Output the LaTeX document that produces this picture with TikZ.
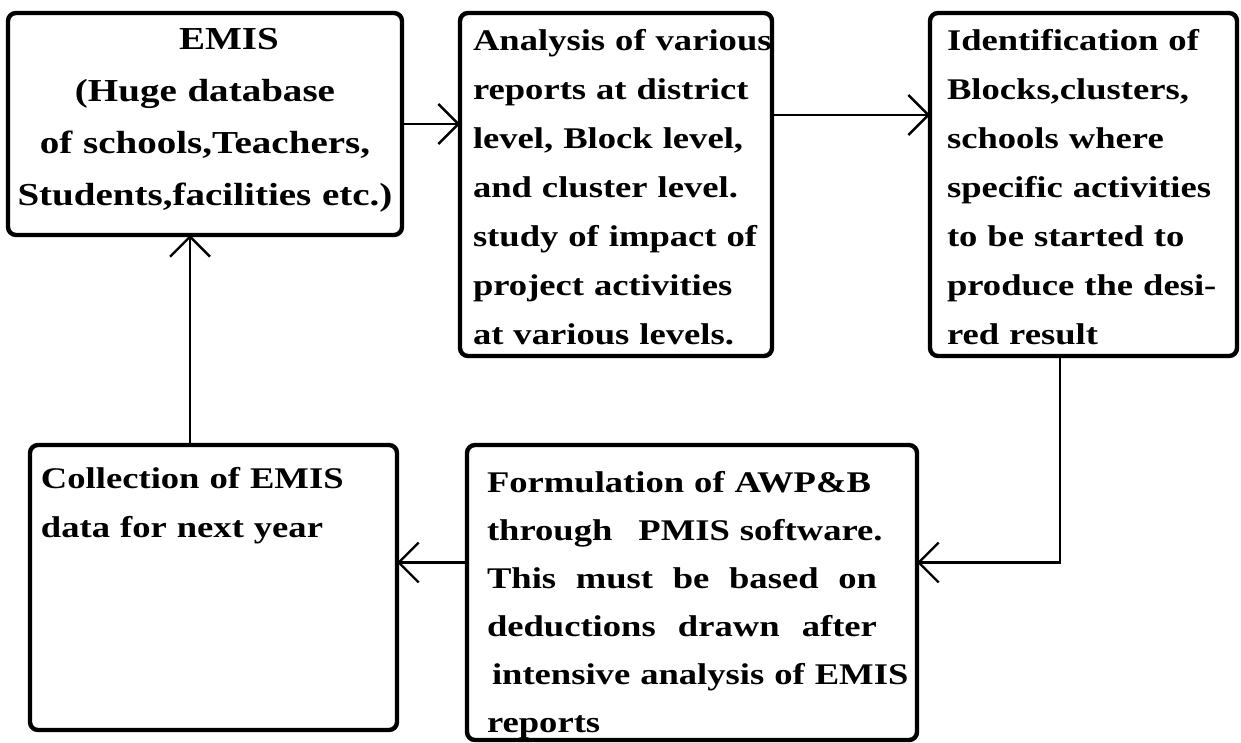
\documentclass[tikz,border=0pt]{standalone}
\usepackage{fontspec}
\setmainfont{Liberation Serif}[FakeStretch=1.22]
\usetikzlibrary{positioning,arrows.meta}
\newcommand{\padleft}[1]{\leftskip=#1\rightskip=-30pt plus 1fil\relax}
\tikzset{
  blk/.style={rectangle,rounded corners=4pt,draw=black,line width=2.2pt,inner sep=0pt,outer sep=0pt,align=left,font=\bfseries\fontsize{15pt}{24.5pt}\selectfont},
  link/.style={-{Straight Barb[length=10pt,width=20pt]},line width=1.2pt,draw=black},
}
\begin{document}
\begin{tikzpicture}[x=0.5pt,y=-0.5pt]
  \fill[white] (0,0) rectangle (1241,743);
  \node[blk,anchor=north west,align=center,text width=197pt,text height=18.5pt,text depth=92.5pt,font=\bfseries\fontsize{16pt}{26pt}\selectfont] (emis) at (8,13) {\hspace*{24pt}EMIS\\(Huge database\hspace*{9pt}\\of schools,Teachers,\\Students,facilities etc.)};
  \node[blk,right=29pt of emis.north east,anchor=north west,text width=156pt,text height=19pt,text depth=152.5pt] (ana) {\padleft{6.5pt}Analysis of various\\reports at district\\level, Block level,\\and cluster level.\\study of impact of\\project activities\\at various levels.\par};
  \node[blk,right=79pt of ana.north east,anchor=north west,text width=153.5pt,text height=19pt,text depth=152.5pt] (idn) {\padleft{8.5pt}Identification of\\Blocks,clusters,\\schools where\\specific activities\\to be started to\\produce the desi-\\red result\par};
  \node[blk,anchor=north west,text width=183.5pt,text height=21.5pt,text depth=121pt] (coll) at (30,445) {\padleft{5.5pt}Collection of EMIS\\data for next year\par};
  \node[blk,right=35pt of coll.north east,anchor=north west,text width=225pt,text height=23.5pt,text depth=124pt,font=\bfseries\fontsize{15pt}{24pt}\selectfont] (form) {\padleft{10pt}Formulation of AWP\&B\\through\hspace{8pt} PMIS software.\\\makebox[195pt][l]{This\hfill must\hfill be\hfill based\hfill on}\\\makebox[195pt][l]{deductions\hfill drawn\hfill after}\\\hspace*{2.5pt}intensive analysis of EMIS\\reports\par};
  % cycle of arrows
  \draw[link] (emis.east) -- (emis.east -| ana.west);
  \draw[link] ([yshift=-51pt]ana.north east) -- ([yshift=-51pt]ana.north east -| idn.west);
  \draw[link] ([xshift=-11.75pt]idn.south) |- ([yshift=15pt]form.east);
  \draw[link] ([yshift=15pt]form.west) -- ([yshift=15pt]form.west -| coll.east);
  \draw[link] ([xshift=-11.75pt]coll.north) -- ([xshift=-11.75pt]coll.north |- emis.south);
\end{tikzpicture}
\end{document}
